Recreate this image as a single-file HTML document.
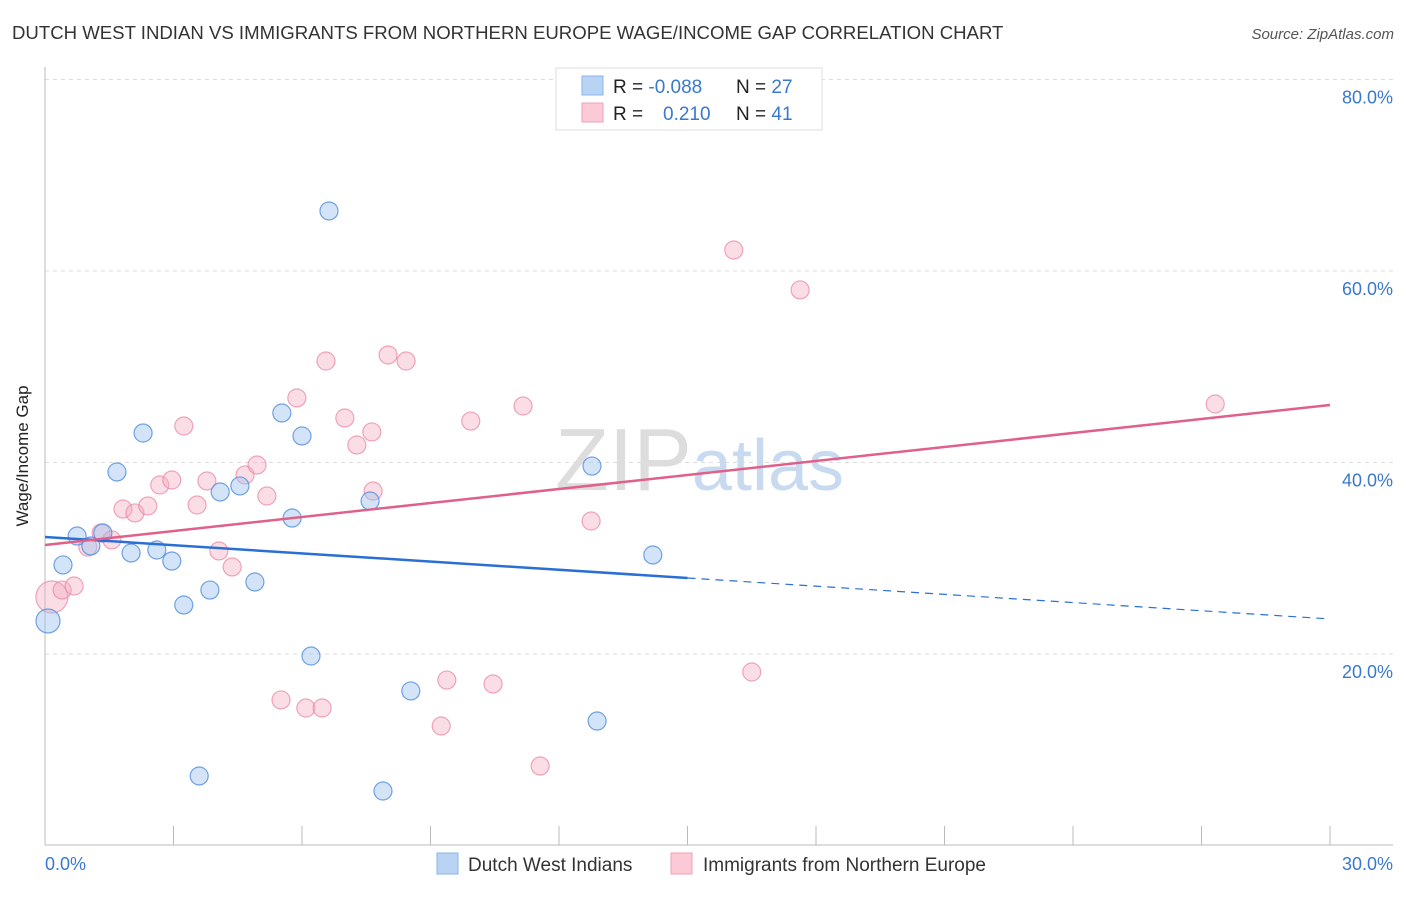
<!DOCTYPE html>
<html><head><meta charset="utf-8"><style>
body{margin:0;background:#fff;font-family:"Liberation Sans",sans-serif;}
svg text{font-family:"Liberation Sans",sans-serif;}
</style></head><body>
<svg width="1406" height="892">
<text x="12" y="39" font-size="18.6" fill="#333">DUTCH WEST INDIAN VS IMMIGRANTS FROM NORTHERN EUROPE WAGE/INCOME GAP CORRELATION CHART</text>
<text x="1394" y="39" font-size="15" fill="#555" text-anchor="end" font-style="italic">Source: ZipAtlas.com</text>
<g id="grid"></g>
<text x="555" y="490" font-size="88" fill="#ddd" font-family="Liberation Serif">ZIP<tspan fill="#c8daf0" font-family="Liberation Sans" font-size="72">atlas</tspan></text>
<g id="axes"></g>
<g id="marks"></g>
<text x="28" y="456" font-size="17" fill="#222" text-anchor="middle" transform="rotate(-90 28 456)">Wage/Income Gap</text>
<g>
<rect x="556" y="68" width="266" height="62" fill="#fff" stroke="#ddd"/>
<rect x="582" y="76" width="21" height="19" fill="#b9d3f5" stroke="#8ab4ea"/>
<rect x="582" y="103" width="21" height="19" fill="#fcc9d6" stroke="#f0a0b8"/>
<text x="613" y="93" font-size="19" fill="#222">R = <tspan fill="#3a78d0">-0.088</tspan></text>
<text x="736" y="93" font-size="19" fill="#222">N = <tspan fill="#3a78d0">27</tspan></text>
<text x="613" y="120" font-size="19" fill="#222">R = <tspan fill="#3a78d0" x="663">0.210</tspan></text>
<text x="736" y="120" font-size="19" fill="#222">N = <tspan fill="#3a78d0">41</tspan></text>
</g>
<g>
<rect x="437" y="853" width="21" height="21" fill="#b9d3f5" stroke="#8ab4ea"/>
<text x="468" y="871" font-size="19" fill="#333">Dutch West Indians</text>
<rect x="671" y="853" width="21" height="21" fill="#fcc9d6" stroke="#f0a0b8"/>
<text x="703" y="871" font-size="19" fill="#333">Immigrants from Northern Europe</text>
</g>
</svg>
<script>
const blueX=[0.07,0.42,0.75,1.07,1.35,1.68,2.01,2.29,2.61,2.96,3.24,3.60,3.85,4.09,4.55,4.90,5.53,5.77,6.00,6.21,6.63,7.59,7.89,8.54,12.77,12.89,14.19];
const blueY=[23.45,29.30,32.32,31.28,32.64,39.01,30.55,43.08,30.86,29.71,25.12,7.26,26.68,36.92,37.55,27.52,45.17,34.20,42.77,19.79,66.27,35.98,5.69,16.14,39.63,13.00,30.34];
const pinkX=[0.16,0.40,0.68,1.00,1.31,1.56,1.82,2.10,2.40,2.68,2.96,3.24,3.55,3.78,4.06,4.37,4.67,4.95,5.18,5.51,5.88,6.09,6.47,6.56,7.00,7.28,7.63,7.66,8.01,8.43,9.25,9.38,9.94,10.46,11.16,11.56,12.75,16.08,16.50,17.63,27.32];
const pinkY=[25.95,26.68,27.10,31.17,32.64,31.91,35.14,34.73,35.46,37.65,38.17,43.81,35.56,38.07,30.76,29.09,38.70,39.74,36.50,15.20,46.74,14.36,14.36,50.60,44.65,41.83,43.19,37.02,51.23,50.60,12.48,17.28,44.33,16.87,45.90,8.30,33.89,62.19,18.12,58.02,46.11];
const blueTrend=[32.22,23.66];
const pinkTrend=[31.38,46.01];
const yTicks=[20,40,60,80];
const xTickLabels=["0.0%","30.0%"];
const NS="http://www.w3.org/2000/svg";
const sx=v=>45+v*1285/30;
const sy=v=>845.5-v*9.575;
function mk(t,a,p){const e=document.createElementNS(NS,t);for(const k in a)e.setAttribute(k,a[k]);p.appendChild(e);return e;}
const grid=document.getElementById('grid'),axes=document.getElementById('axes'),marks=document.getElementById('marks');
yTicks.forEach(v=>{
 const l=mk('line',{x1:45,x2:1393,y1:sy(v),y2:sy(v),stroke:'#ddd','stroke-dasharray':'4 4'},grid);
 
 
 const t=mk('text',{x:1393,y:sy(v)+24,'font-size':18,fill:'#3a78d0','text-anchor':'end'},axes);
 t.textContent=v.toFixed(1)+'%';
 
 
});
let a=mk('line',{x1:45,x2:45,y1:67,y2:845,stroke:'#bbb'},axes);


a=mk('line',{x1:45,x2:1393,y1:845,y2:845,stroke:'#bbb'},axes);


for(let i=0;i<=10;i++){
 const x=sx(i*3);
 const t=mk('line',{x1:x,x2:x,y1:826,y2:845,stroke:'#bbb'},axes);
 
 
}
let t0=mk('text',{x:45,y:870,'font-size':18,fill:'#3a78d0'},axes);t0.textContent=xTickLabels[0];


let t1=mk('text',{x:1393,y:870,'font-size':18,fill:'#3a78d0','text-anchor':'end'},axes);t1.textContent=xTickLabels[1];


pinkX.forEach((x,i)=>{
 const c=mk('circle',{cx:sx(x),cy:sy(pinkY[i]),r:i==0?16:9,fill:'rgba(245,170,192,0.4)',stroke:'rgba(232,130,160,0.7)','stroke-width':1.2},marks);
 
 
});
blueX.forEach((x,i)=>{
 const c=mk('circle',{cx:sx(x),cy:sy(blueY[i]),r:i==0?12:9,fill:'rgba(160,195,240,0.45)',stroke:'rgba(80,140,220,0.8)','stroke-width':1.2},marks);
 
 
});
const bAt=v=>blueTrend[0]+(blueTrend[1]-blueTrend[0])*v/30;
let l=mk('line',{x1:sx(0),y1:sy(bAt(0)),x2:sx(15),y2:sy(bAt(15)),stroke:'#2a6fd6','stroke-width':2.5},marks);


l=mk('line',{x1:sx(15),y1:sy(bAt(15)),x2:sx(30),y2:sy(bAt(30)),stroke:'#2a6fd6','stroke-width':1.2,'stroke-dasharray':'8 6'},marks);


l=mk('line',{x1:sx(0),y1:sy(pinkTrend[0]),x2:sx(30),y2:sy(pinkTrend[1]),stroke:'#e0608a','stroke-width':2.5},marks);


</script>
</body></html>
